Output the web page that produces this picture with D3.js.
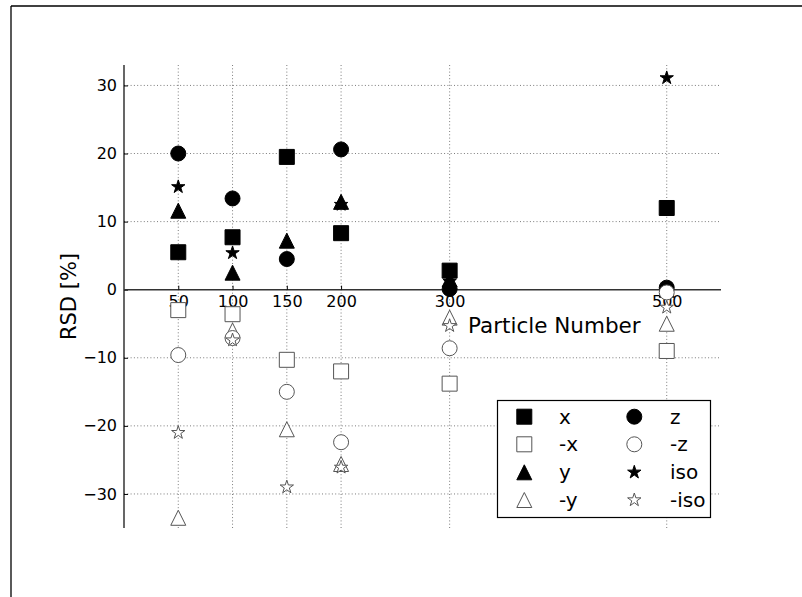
<!DOCTYPE html>
<html>
<head>
<meta charset="utf-8">
<script src="https://cdn.jsdelivr.net/npm/d3@7"></script>
<style>
  html, body { margin: 0; padding: 0; background: #fff; }
  svg { display: block; font-family: "DejaVu Sans", sans-serif; }
</style>
</head>
<body>
<svg id="chart" width="802" height="597"></svg>
<script>
// Particle counts on the x axis
const particles = [50, 100, 150, 200, 300, 500];
const xTicks = [50, 100, 150, 200, 300, 500];
const yTicks = [-30, -20, -10, 0, 10, 20, 30];

// RSD [%] per direction
const xPos   = [5.5, 7.7, 19.5, 8.3, 2.8, 12.0];
const xNeg   = [-3.0, -3.6, -10.3, -12.0, -13.8, -9.0];
const yPos   = [11.6, 2.5, 7.2, 12.9, 1.5, 0.0];
const yNeg   = [-33.5, -6.0, -20.5, -25.6, -4.1, -5.0];
const zPos   = [20.0, 13.4, 4.5, 20.6, 0.1, 0.3];
const zNeg   = [-9.6, -7.1, -15.0, -22.4, -8.6, -0.4];
const isoPos = [15.1, 5.4, 4.5, 12.5, 1.2, 31.1];
const isoNeg = [-21.0, -7.4, -29.0, -26.1, -5.3, -2.6];

const seriesNames = ["x", "-x", "y", "-y", "z", "-z", "iso", "-iso"];
const seriesValues = [xPos, xNeg, yPos, yNeg, zPos, zNeg, isoPos, isoNeg];
const seriesShape = ["square", "square", "triangle", "triangle", "circle", "circle", "star", "star"];
const seriesFilled = [true, false, true, false, true, false, true, false];

const svg = d3.select("#chart");
const W = 802, H = 597;
const plot = { left: 124, right: 721, top: 65, bottom: 528 };

const x = d3.scaleLinear().domain([0, 550]).range([plot.left, plot.right]);
const y = d3.scaleLinear().domain([-35, 33]).range([plot.bottom, plot.top]);

// Outer figure frame (top and left edges)
svg.append("line").attr("x1", 11).attr("x2", W).attr("y1", 6).attr("y2", 6)
  .attr("stroke", "#000").attr("stroke-width", 1.3);
svg.append("line").attr("x1", 11).attr("x2", 11).attr("y1", 6).attr("y2", H)
  .attr("stroke", "#000").attr("stroke-width", 1.3);

// Dotted grid
const grid = svg.append("g").attr("stroke", "#444").attr("stroke-width", 0.7)
  .attr("stroke-dasharray", "1,2.3");
grid.selectAll("line.v").data(xTicks).join("line").attr("class", "v")
  .attr("x1", d => x(d)).attr("x2", d => x(d))
  .attr("y1", plot.top).attr("y2", plot.bottom);
grid.selectAll("line.h").data(yTicks.filter(d => d !== 0)).join("line").attr("class", "h")
  .attr("x1", plot.left).attr("x2", plot.right)
  .attr("y1", d => y(d)).attr("y2", d => y(d));

// Y axis: spine at x = 0, inward ticks
const yAxis = d3.axisRight(y).tickValues(yTicks).tickSize(4).tickSizeOuter(0)
  .tickFormat(d => d3.format("d")(d).replace("-", "\u2212"));
const gy = svg.append("g").attr("transform", `translate(${x(0)},0)`).call(yAxis);
gy.select(".domain").attr("stroke", "#000").attr("stroke-width", 1.2)
  .attr("d", `M0,${plot.top}V${plot.bottom}`);
gy.selectAll(".tick line").attr("stroke", "#000");
gy.selectAll(".tick text").attr("x", -7).attr("text-anchor", "end")
  .attr("font-size", 16).attr("font-family", "DejaVu Sans").attr("fill", "#000");

// X axis: spine at y = 0, inward ticks, labels below
const xAxis = d3.axisTop(x).tickValues(xTicks).tickSize(4).tickSizeOuter(0);
const gx = svg.append("g").attr("transform", `translate(0,${y(0)})`).call(xAxis);
gx.select(".domain").attr("stroke", "#333").attr("stroke-width", 1.5)
  .attr("d", `M${plot.left},0H${plot.right}`);
gx.selectAll(".tick line").attr("stroke", "#000");
gx.selectAll(".tick text").attr("y", 17).attr("dy", 0)
  .attr("font-size", 16).attr("font-family", "DejaVu Sans").attr("fill", "#000");

// Marker shapes (size in px)
const S = 15;
function shapePath(shape, s) {
  const h = s / 2;
  if (shape === "square") return `M${-h},${-h}H${h}V${h}H${-h}Z`;
  if (shape === "circle") return `M${h},0A${h},${h},0,1,1,${-h},0A${h},${h},0,1,1,${h},0Z`;
  if (shape === "triangle") return `M0,${-h}L${-h},${h}L${h},${h}Z`;
  // five-pointed star
  const pts = [];
  for (let i = 0; i < 10; i++) {
    const r = i % 2 === 0 ? h : h * 0.381966;
    const a = -Math.PI / 2 + i * Math.PI / 5;
    pts.push([r * Math.cos(a), r * Math.sin(a)]);
  }
  return "M" + pts.map(p => p[0].toFixed(2) + "," + p[1].toFixed(2)).join("L") + "Z";
}
function styleMarker(sel, filled) {
  sel.attr("fill", filled ? "#000" : "#fff")
     .attr("stroke", filled ? "#000" : "#555")
     .attr("stroke-width", 1);
}

// Data markers
const marks = svg.append("g");
seriesValues.forEach((vals, i) => {
  const pts = particles.map((p, j) => ({ p, v: vals[j] })).filter(d => d.v != null);
  marks.append("g").selectAll("path").data(pts).join("path")
    .attr("d", shapePath(seriesShape[i], seriesShape[i] === "star" ? S - 1 : S))
    .attr("transform", d => `translate(${x(d.p)},${y(d.v)})`)
    .call(styleMarker, seriesFilled[i]);
});

// Axis titles
svg.append("text").attr("x", 468).attr("y", 333)
  .attr("font-size", 21.5).attr("fill", "#000").text("Particle Number");
svg.append("text").attr("transform", `translate(76,${(plot.top + plot.bottom) / 2}) rotate(-90)`)
  .attr("text-anchor", "middle").attr("font-size", 21).attr("fill", "#000").text("RSD [%]");

// Legend (two columns)
const leg = svg.append("g");
leg.append("rect").attr("x", 497.5).attr("y", 400.5).attr("width", 213).attr("height", 117)
  .attr("fill", "#fff").attr("stroke", "#000").attr("stroke-width", 1.2);
const rowY = [416.7, 444.3, 472.3, 500];
seriesNames.forEach((name, i) => {
  const col = Math.floor(i / 4), row = i % 4;
  const mx = col === 0 ? 524.3 : 634.3;
  const tx = col === 0 ? 559 : 670;
  leg.append("path")
    .attr("d", shapePath(seriesShape[i], seriesShape[i] === "star" ? S - 1 : S))
    .attr("transform", `translate(${mx},${rowY[row]})`)
    .call(styleMarker, seriesFilled[i]);
  leg.append("text").attr("x", tx).attr("y", rowY[row]).attr("dy", "0.35em")
    .attr("font-size", 20).attr("fill", "#000").text(name);
});
</script>
</body>
</html>
